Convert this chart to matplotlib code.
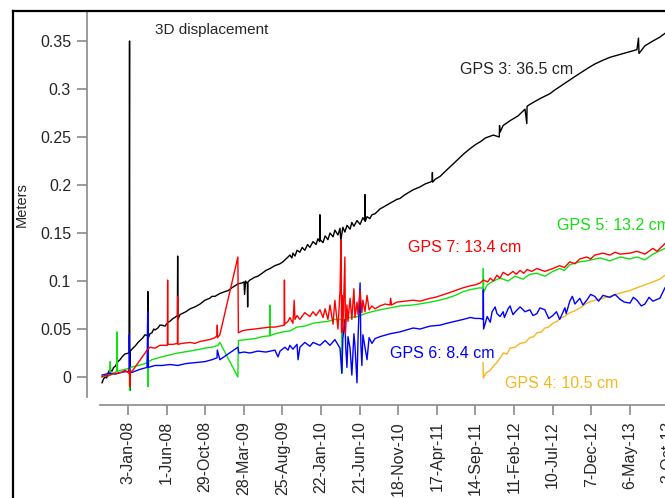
import numpy as np
import matplotlib
matplotlib.use("Agg")
import matplotlib.pyplot as plt
import matplotlib.dates as mdates
from matplotlib.lines import Line2D

plt.rcParams['font.family'] = ['Liberation Sans', 'DejaVu Sans']

# axis ticks
tick_dates = ['2008-01-03', '2008-06-01', '2008-10-29', '2009-03-28', '2009-08-25',
              '2010-01-22', '2010-06-21', '2010-11-18', '2011-04-17', '2011-09-14',
              '2012-02-11', '2012-07-10', '2012-12-07', '2013-05-06', '2013-10-03']
tick_labels = ['3-Jan-08', '1-Jun-08', '29-Oct-08', '28-Mar-09', '25-Aug-09',
               '22-Jan-10', '21-Jun-10', '18-Nov-10', '17-Apr-11', '14-Sep-11',
               '11-Feb-12', '10-Jul-12', '7-Dec-12', '6-May-13', '3-Oct-13']
y_ticks = [0, 0.05, 0.1, 0.15, 0.2, 0.25, 0.3, 0.35]
y_tick_labels = ['0', '0.05', '0.1', '0.15', '0.2', '0.25', '0.3', '0.35']

# series: (date, meters)
gps3 = [('2007-09-24', -0.006), ('2007-09-30', -0.002), ('2007-10-06', 0.000), ('2007-10-12', -0.001),
        ('2007-10-17', 0.004), ('2007-10-25', 0.008), ('2007-11-02', 0.006), ('2007-11-08', 0.010),
        ('2007-11-14', 0.011), ('2007-11-20', 0.014), ('2007-11-25', 0.016), ('2007-12-03', 0.018),
        ('2007-12-11', 0.021), ('2007-12-22', 0.024), ('2008-01-07', 0.025), ('2008-01-09', 0.350),
        ('2008-01-10', -0.014), ('2008-01-12', 0.027), ('2008-01-22', 0.030), ('2008-01-30', 0.032),
        ('2008-02-11', 0.036), ('2008-02-19', 0.038), ('2008-03-01', 0.041), ('2008-03-09', 0.044),
        ('2008-03-19', 0.043), ('2008-03-20', 0.089), ('2008-03-21', 0.040), ('2008-03-28', 0.045),
        ('2008-04-05', 0.046), ('2008-04-12', 0.050), ('2008-04-17', 0.049), ('2008-04-28', 0.051),
        ('2008-05-06', 0.054), ('2008-05-14', 0.054), ('2008-05-26', 0.053), ('2008-06-06', 0.057),
        ('2008-06-14', 0.058), ('2008-06-26', 0.061), ('2008-07-03', 0.062), ('2008-07-13', 0.064),
        ('2008-07-14', 0.126), ('2008-07-15', 0.060), ('2008-07-23', 0.065), ('2008-07-31', 0.066),
        ('2008-08-15', 0.068), ('2008-08-31', 0.071), ('2008-09-19', 0.073), ('2008-10-09', 0.076),
        ('2008-10-28', 0.080), ('2008-11-16', 0.082), ('2008-11-24', 0.084), ('2008-12-06', 0.084),
        ('2008-12-25', 0.087), ('2009-01-14', 0.089), ('2009-01-26', 0.090), ('2009-02-10', 0.093),
        ('2009-02-22', 0.095), ('2009-03-05', 0.097), ('2009-03-21', 0.098), ('2009-03-29', 0.099),
        ('2009-03-31', 0.086), ('2009-04-04', 0.100), ('2009-04-11', 0.097), ('2009-04-12', 0.073),
        ('2009-04-13', 0.099), ('2009-04-21', 0.101), ('2009-05-10', 0.104), ('2009-05-22', 0.105),
        ('2009-06-07', 0.108), ('2009-06-22', 0.111), ('2009-07-08', 0.113), ('2009-07-27', 0.116),
        ('2009-08-16', 0.118), ('2009-08-27', 0.120), ('2009-09-04', 0.122), ('2009-09-16', 0.125),
        ('2009-09-23', 0.127), ('2009-10-01', 0.124), ('2009-10-05', 0.129), ('2009-10-13', 0.126),
        ('2009-10-21', 0.132), ('2009-11-01', 0.130), ('2009-11-10', 0.135), ('2009-11-20', 0.132),
        ('2009-12-01', 0.138), ('2009-12-10', 0.135), ('2009-12-22', 0.141), ('2010-01-03', 0.138),
        ('2010-01-10', 0.144), ('2010-01-17', 0.141), ('2010-01-18', 0.169), ('2010-01-19', 0.143),
        ('2010-01-30', 0.140), ('2010-02-07', 0.147), ('2010-02-18', 0.143), ('2010-02-26', 0.150),
        ('2010-03-10', 0.146), ('2010-03-17', 0.153), ('2010-03-29', 0.148), ('2010-04-06', 0.155),
        ('2010-04-09', 0.142), ('2010-04-17', 0.156), ('2010-04-25', 0.151), ('2010-05-03', 0.158),
        ('2010-05-15', 0.154), ('2010-05-22', 0.161), ('2010-05-30', 0.157), ('2010-06-11', 0.163),
        ('2010-06-23', 0.159), ('2010-07-04', 0.166), ('2010-07-11', 0.163), ('2010-07-12', 0.190),
        ('2010-07-13', 0.162), ('2010-07-20', 0.167), ('2010-07-31', 0.165), ('2010-08-08', 0.169),
        ('2010-08-20', 0.170), ('2010-09-08', 0.175), ('2010-09-28', 0.178), ('2010-10-17', 0.181),
        ('2010-11-13', 0.185), ('2010-11-25', 0.186), ('2010-12-15', 0.190), ('2011-01-15', 0.195),
        ('2011-02-11', 0.198), ('2011-03-02', 0.201), ('2011-03-22', 0.203), ('2011-03-30', 0.204),
        ('2011-03-31', 0.213), ('2011-04-01', 0.203), ('2011-04-11', 0.206), ('2011-04-30', 0.209),
        ('2011-05-27', 0.216), ('2011-06-28', 0.224), ('2011-07-29', 0.232), ('2011-08-25', 0.238),
        ('2011-09-14', 0.242), ('2011-10-03', 0.245), ('2011-10-23', 0.249), ('2011-11-23', 0.252),
        ('2011-12-16', 0.250), ('2011-12-17', 0.262), ('2011-12-19', 0.255), ('2011-12-31', 0.262),
        ('2012-01-27', 0.267), ('2012-02-27', 0.272), ('2012-03-25', 0.279), ('2012-04-01', 0.264),
        ('2012-04-02', 0.282), ('2012-04-13', 0.284), ('2012-05-22', 0.290), ('2012-06-29', 0.295),
        ('2012-07-19', 0.299), ('2012-08-27', 0.306), ('2012-10-05', 0.313), ('2012-11-20', 0.321),
        ('2012-12-21', 0.326), ('2013-01-22', 0.330), ('2013-02-18', 0.333), ('2013-03-29', 0.336),
        ('2013-05-07', 0.339), ('2013-06-03', 0.341), ('2013-06-09', 0.353), ('2013-06-11', 0.337),
        ('2013-07-04', 0.345), ('2013-08-04', 0.350), ('2013-08-31', 0.354), ('2013-09-20', 0.358),
        ('2013-10-10', 0.361)]

gps4 = [('2011-10-14', 0.015), ('2011-10-15', -0.001), ('2011-10-25', 0.004), ('2011-11-11', 0.007),
        ('2011-11-25', 0.012), ('2011-12-07', 0.015), ('2011-12-20', 0.020), ('2011-12-31', 0.025),
        ('2012-01-15', 0.024), ('2012-01-27', 0.030), ('2012-02-15', 0.031), ('2012-03-06', 0.035),
        ('2012-03-25', 0.036), ('2012-04-13', 0.041), ('2012-04-28', 0.042), ('2012-05-10', 0.046),
        ('2012-05-28', 0.047), ('2012-06-10', 0.051), ('2012-06-25', 0.052), ('2012-07-11', 0.056),
        ('2012-07-28', 0.058), ('2012-08-07', 0.061), ('2012-08-25', 0.063), ('2012-09-15', 0.067),
        ('2012-10-05', 0.069), ('2012-10-24', 0.072), ('2012-11-05', 0.074), ('2012-11-20', 0.077),
        ('2012-12-21', 0.080), ('2013-01-22', 0.082), ('2013-02-18', 0.084), ('2013-03-29', 0.0875),
        ('2013-05-07', 0.090), ('2013-06-03', 0.093), ('2013-07-04', 0.096), ('2013-08-04', 0.099),
        ('2013-08-31', 0.102), ('2013-09-20', 0.106), ('2013-10-10', 0.108)]

gps5 = [('2007-09-24', 0.000), ('2007-10-17', 0.003), ('2007-10-25', 0.002), ('2007-10-26', 0.016),
        ('2007-10-27', 0.003), ('2007-11-14', 0.005), ('2007-11-21', 0.006), ('2007-11-22', 0.047),
        ('2007-11-23', 0.006), ('2007-12-22', 0.008), ('2008-01-08', 0.009), ('2008-01-09', -0.014),
        ('2008-01-12', 0.010), ('2008-02-11', 0.012), ('2008-03-09', 0.014), ('2008-03-19', 0.015),
        ('2008-03-20', 0.028), ('2008-03-21', -0.010), ('2008-03-23', 0.016), ('2008-04-05', 0.018),
        ('2008-05-14', 0.021), ('2008-06-14', 0.023), ('2008-07-15', 0.025), ('2008-08-31', 0.027),
        ('2008-09-19', 0.028), ('2008-10-28', 0.030), ('2008-11-24', 0.031), ('2008-12-18', 0.033),
        ('2008-12-25', 0.036), ('2009-03-05', 0.000), ('2009-03-07', 0.038), ('2009-04-06', 0.039),
        ('2009-05-10', 0.040), ('2009-06-07', 0.042), ('2009-07-07', 0.043), ('2009-07-08', 0.075),
        ('2009-07-09', 0.043), ('2009-07-27', 0.045), ('2009-08-27', 0.047), ('2009-09-23', 0.048),
        ('2009-10-21', 0.052), ('2009-11-20', 0.053), ('2009-12-22', 0.056), ('2010-01-18', 0.057),
        ('2010-02-18', 0.058), ('2010-03-17', 0.060), ('2010-04-12', 0.060), ('2010-04-13', 0.004),
        ('2010-04-15', 0.058), ('2010-05-15', 0.062), ('2010-06-15', 0.063), ('2010-07-12', 0.066),
        ('2010-08-08', 0.068), ('2010-09-08', 0.070), ('2010-10-17', 0.072), ('2010-11-25', 0.074),
        ('2011-01-15', 0.075), ('2011-03-02', 0.077), ('2011-04-11', 0.079), ('2011-05-27', 0.082),
        ('2011-06-28', 0.085), ('2011-07-29', 0.089), ('2011-08-25', 0.091), ('2011-10-03', 0.093),
        ('2011-10-14', 0.092), ('2011-10-15', 0.113), ('2011-10-16', 0.088), ('2011-10-30', 0.096),
        ('2011-11-23', 0.100), ('2011-12-19', 0.103), ('2012-01-19', 0.100), ('2012-02-15', 0.105),
        ('2012-03-17', 0.102), ('2012-04-13', 0.107), ('2012-05-10', 0.108), ('2012-06-10', 0.105),
        ('2012-07-11', 0.110), ('2012-08-07', 0.113), ('2012-08-25', 0.111), ('2012-09-15', 0.117),
        ('2012-10-24', 0.120), ('2012-11-20', 0.121), ('2013-01-10', 0.124), ('2013-02-18', 0.121),
        ('2013-03-29', 0.125), ('2013-05-07', 0.123), ('2013-06-03', 0.125), ('2013-07-04', 0.122),
        ('2013-08-04', 0.128), ('2013-09-20', 0.134), ('2013-10-10', 0.135)]

gps6 = [('2007-09-24', 0.002), ('2007-10-25', 0.004), ('2007-11-14', 0.003), ('2007-12-11', 0.005),
        ('2008-01-07', 0.006), ('2008-01-08', 0.044), ('2008-01-10', 0.004), ('2008-01-30', 0.006),
        ('2008-02-19', 0.008), ('2008-03-17', 0.010), ('2008-03-20', 0.068), ('2008-03-22', 0.010),
        ('2008-04-17', 0.012), ('2008-05-14', 0.012), ('2008-06-14', 0.013), ('2008-07-15', 0.012),
        ('2008-08-15', 0.014), ('2008-09-19', 0.015), ('2008-10-28', 0.016), ('2008-11-24', 0.018),
        ('2008-12-14', 0.020), ('2008-12-15', 0.028), ('2008-12-25', 0.018), ('2009-03-05', 0.031),
        ('2009-03-09', 0.025), ('2009-03-29', 0.026), ('2009-04-21', 0.025), ('2009-05-22', 0.027),
        ('2009-06-22', 0.026), ('2009-07-27', 0.028), ('2009-08-08', 0.021), ('2009-08-16', 0.027),
        ('2009-09-04', 0.031), ('2009-09-16', 0.028), ('2009-09-23', 0.033), ('2009-10-05', 0.029),
        ('2009-10-21', 0.034), ('2009-10-25', 0.018), ('2009-11-01', 0.031), ('2009-11-20', 0.036),
        ('2009-12-10', 0.032), ('2009-12-22', 0.036), ('2010-01-18', 0.033), ('2010-02-07', 0.038),
        ('2010-02-26', 0.033), ('2010-03-17', 0.039), ('2010-04-06', 0.030), ('2010-04-13', 0.004),
        ('2010-04-17', 0.040), ('2010-04-25', 0.060), ('2010-04-28', 0.032), ('2010-05-03', 0.010),
        ('2010-05-07', 0.042), ('2010-05-15', 0.030), ('2010-05-22', 0.002), ('2010-05-30', 0.045),
        ('2010-06-03', 0.033), ('2010-06-11', -0.006), ('2010-06-15', 0.040), ('2010-06-23', 0.098),
        ('2010-06-26', 0.034), ('2010-06-30', 0.012), ('2010-07-04', 0.044), ('2010-07-20', 0.018),
        ('2010-07-28', 0.041), ('2010-08-08', 0.035), ('2010-08-20', 0.040), ('2010-09-08', 0.042),
        ('2010-10-17', 0.045), ('2010-11-25', 0.047), ('2011-01-15', 0.051), ('2011-02-11', 0.050),
        ('2011-03-22', 0.053), ('2011-04-30', 0.054), ('2011-05-27', 0.056), ('2011-06-28', 0.058),
        ('2011-07-29', 0.060), ('2011-08-25', 0.062), ('2011-09-14', 0.061), ('2011-10-03', 0.061),
        ('2011-10-14', 0.060), ('2011-10-15', 0.091), ('2011-10-16', 0.050), ('2011-10-30', 0.063),
        ('2011-11-11', 0.057), ('2011-11-18', 0.068), ('2011-11-30', 0.073), ('2011-12-07', 0.066),
        ('2011-12-19', 0.063), ('2011-12-31', 0.068), ('2012-01-05', 0.062), ('2012-01-19', 0.071),
        ('2012-01-27', 0.074), ('2012-02-07', 0.065), ('2012-02-20', 0.069), ('2012-03-06', 0.073),
        ('2012-03-25', 0.068), ('2012-04-13', 0.070), ('2012-04-25', 0.064), ('2012-05-10', 0.066),
        ('2012-05-22', 0.072), ('2012-06-10', 0.070), ('2012-06-25', 0.061), ('2012-07-11', 0.064),
        ('2012-07-25', 0.068), ('2012-08-07', 0.060), ('2012-08-27', 0.072), ('2012-09-01', 0.066),
        ('2012-09-15', 0.079), ('2012-09-25', 0.084), ('2012-10-05', 0.076), ('2012-10-24', 0.082),
        ('2012-11-05', 0.075), ('2012-11-20', 0.080), ('2012-12-05', 0.086), ('2012-12-21', 0.084),
        ('2013-01-05', 0.079), ('2013-01-22', 0.085), ('2013-02-18', 0.083), ('2013-03-10', 0.086),
        ('2013-03-29', 0.081), ('2013-04-15', 0.078), ('2013-05-07', 0.077), ('2013-05-20', 0.083),
        ('2013-06-03', 0.080), ('2013-06-20', 0.074), ('2013-07-04', 0.076), ('2013-07-20', 0.083),
        ('2013-08-04', 0.079), ('2013-08-31', 0.082), ('2013-09-20', 0.093), ('2013-10-10', 0.095)]

gps7 = [('2007-09-24', 0.000), ('2007-10-08', 0.002), ('2007-10-17', 0.001), ('2007-11-02', 0.003),
        ('2007-11-22', 0.004), ('2007-12-11', 0.005), ('2007-12-22', 0.007), ('2008-01-07', 0.004),
        ('2008-01-09', 0.008), ('2008-01-10', -0.010), ('2008-01-12', 0.005), ('2008-01-22', 0.007),
        ('2008-03-17', 0.028), ('2008-03-28', 0.031), ('2008-04-17', 0.030), ('2008-05-06', 0.033),
        ('2008-06-04', 0.033), ('2008-06-05', 0.101), ('2008-06-06', 0.034), ('2008-06-26', 0.034),
        ('2008-07-13', 0.035), ('2008-07-14', 0.084), ('2008-07-15', 0.034), ('2008-07-31', 0.035),
        ('2008-08-31', 0.036), ('2008-09-19', 0.035), ('2008-10-09', 0.037), ('2008-10-28', 0.038),
        ('2008-11-16', 0.039), ('2008-12-06', 0.041), ('2008-12-14', 0.043), ('2008-12-15', 0.054),
        ('2008-12-16', 0.041), ('2008-12-25', 0.044), ('2009-03-05', 0.125), ('2009-03-07', 0.046),
        ('2009-03-21', 0.048), ('2009-04-06', 0.049), ('2009-05-10', 0.050), ('2009-06-07', 0.051),
        ('2009-07-08', 0.052), ('2009-07-27', 0.052), ('2009-08-16', 0.053), ('2009-09-01', 0.054),
        ('2009-09-02', 0.101), ('2009-09-03', 0.055), ('2009-09-16', 0.058), ('2009-09-23', 0.062),
        ('2009-10-05', 0.056), ('2009-10-10', 0.080), ('2009-10-13', 0.060), ('2009-10-21', 0.064),
        ('2009-11-01', 0.060), ('2009-11-20', 0.067), ('2009-12-10', 0.063), ('2009-12-22', 0.068),
        ('2010-01-03', 0.064), ('2010-01-18', 0.070), ('2010-01-30', 0.062), ('2010-02-07', 0.071),
        ('2010-02-18', 0.060), ('2010-02-26', 0.075), ('2010-03-10', 0.055), ('2010-03-17', 0.080),
        ('2010-03-29', 0.050), ('2010-04-06', 0.090), ('2010-04-10', 0.143), ('2010-04-12', 0.046),
        ('2010-04-14', 0.085), ('2010-04-17', 0.048), ('2010-04-25', 0.125), ('2010-04-27', 0.045),
        ('2010-05-03', 0.075), ('2010-05-07', 0.058), ('2010-05-15', 0.082), ('2010-05-22', 0.060),
        ('2010-05-30', 0.092), ('2010-06-03', 0.062), ('2010-06-11', 0.078), ('2010-06-15', 0.065),
        ('2010-06-23', 0.090), ('2010-06-30', 0.067), ('2010-07-04', 0.080), ('2010-07-12', 0.068),
        ('2010-07-20', 0.085), ('2010-07-28', 0.070), ('2010-08-08', 0.074), ('2010-08-20', 0.071),
        ('2010-09-08', 0.074), ('2010-09-28', 0.076), ('2010-10-17', 0.075), ('2010-10-20', 0.082),
        ('2010-10-23', 0.075), ('2010-11-13', 0.078), ('2010-12-15', 0.079), ('2011-01-15', 0.080),
        ('2011-02-11', 0.079), ('2011-03-22', 0.082), ('2011-04-11', 0.083), ('2011-05-27', 0.087),
        ('2011-06-28', 0.090), ('2011-07-29', 0.093), ('2011-08-25', 0.095), ('2011-09-14', 0.096),
        ('2011-10-03', 0.098), ('2011-10-15', 0.101), ('2011-11-01', 0.099), ('2011-11-11', 0.103),
        ('2011-11-23', 0.100), ('2011-12-07', 0.106), ('2011-12-19', 0.103), ('2011-12-31', 0.109),
        ('2012-01-19', 0.106), ('2012-02-07', 0.110), ('2012-02-20', 0.107), ('2012-03-06', 0.111),
        ('2012-03-20', 0.108), ('2012-04-02', 0.112), ('2012-04-20', 0.110), ('2012-05-10', 0.113),
        ('2012-06-10', 0.110), ('2012-07-11', 0.113), ('2012-08-07', 0.116), ('2012-08-25', 0.114),
        ('2012-09-15', 0.120), ('2012-10-05', 0.118), ('2012-10-24', 0.123), ('2012-11-20', 0.125),
        ('2012-12-05', 0.123), ('2012-12-21', 0.127), ('2013-01-22', 0.129), ('2013-02-18', 0.127),
        ('2013-03-10', 0.130), ('2013-03-29', 0.128), ('2013-05-07', 0.129), ('2013-06-03', 0.131),
        ('2013-07-04', 0.128), ('2013-08-04', 0.134), ('2013-08-20', 0.131), ('2013-09-20', 0.139),
        ('2013-10-10', 0.140)]


def to_num(dates):
    return mdates.date2num(np.array(dates, dtype='datetime64[D]'))


def split(series):
    d, v = zip(*series)
    return to_num(d), np.array(v)


W, H = 665, 498
fig = plt.figure(figsize=(W / 100, H / 100), dpi=100)
# plot region runs off the right edge, like the cropped original
ax = fig.add_axes([87 / W, 1 - 405 / H, 613 / W, 393 / H])

base = to_num(['2008-01-03'])[0]
px_per_day = 0.2573
px_per_m = 960.0


def px_date(px):
    return base + (px - 128) / px_per_day


def px_val(py):
    return (377 - py) / px_per_m


ax.set_xlim(px_date(87), px_date(700))
ax.set_ylim(px_val(405), px_val(12))

series = [(gps3, 'black'), (gps4, '#f3b81c'), (gps5, '#11e011'),
          (gps6, '#0000ff'), (gps7, '#ff0000')]
for s, c in series:
    x, y = split(s)
    ax.plot(x, y, color=c, lw=1.0, clip_on=False)

axis_grey = '#8a8a8a'
text_col = '#262626'
for side in ['top', 'right']:
    ax.spines[side].set_visible(False)
ax.spines['left'].set_color(axis_grey)
ax.spines['bottom'].set_color(axis_grey)
ax.spines['left'].set_linewidth(1.2)
ax.spines['bottom'].set_linewidth(1.2)
ax.spines['left'].set_bounds(px_val(397), px_val(11))
ax.spines['bottom'].set_bounds(px_date(100), px_date(700))

ax.set_xticks(to_num(tick_dates))
ax.set_xticklabels(tick_labels, rotation=90)
ax.set_yticks(y_ticks)
ax.set_yticklabels(y_tick_labels)
ax.tick_params(axis='both', length=7.5, width=1.2, color=axis_grey,
               labelcolor=text_col, labelsize=11.5, pad=4)

fig.text(22 / W, 1 - 205 / H, 'Meters', rotation=90, ha='center', va='center',
         fontsize=10.5, color=text_col)
fig.text(155 / W, 1 - 30 / H, '3D displacement', ha='left', va='center',
         fontsize=11, color=text_col)

labels = [('GPS 3: 36.5 cm', 460, 69, text_col),
          ('GPS 5: 13.2 cm', 557, 226, '#11e011'),
          ('GPS 7: 13.4 cm', 408, 247, '#ff0000'),
          ('GPS 6: 8.4 cm', 390, 354, '#0000ff'),
          ('GPS 4: 10.5 cm', 505, 383, '#f3b81c')]
for txt, px, py, c in labels:
    fig.text(px / W, 1 - py / H, txt, ha='left', va='center', fontsize=11.5, color=c)

# outer figure frame (left and top edges visible in the crop)
fig.add_artist(Line2D([12.5 / W, 12.5 / W], [0, 1 - 11 / H], color='black', lw=1.6,
                      transform=fig.transFigure))
fig.add_artist(Line2D([12.5 / W, 1], [1 - 11 / H, 1 - 11 / H], color='black', lw=1.6,
                      transform=fig.transFigure))

fig.savefig('out.png', dpi=100)
